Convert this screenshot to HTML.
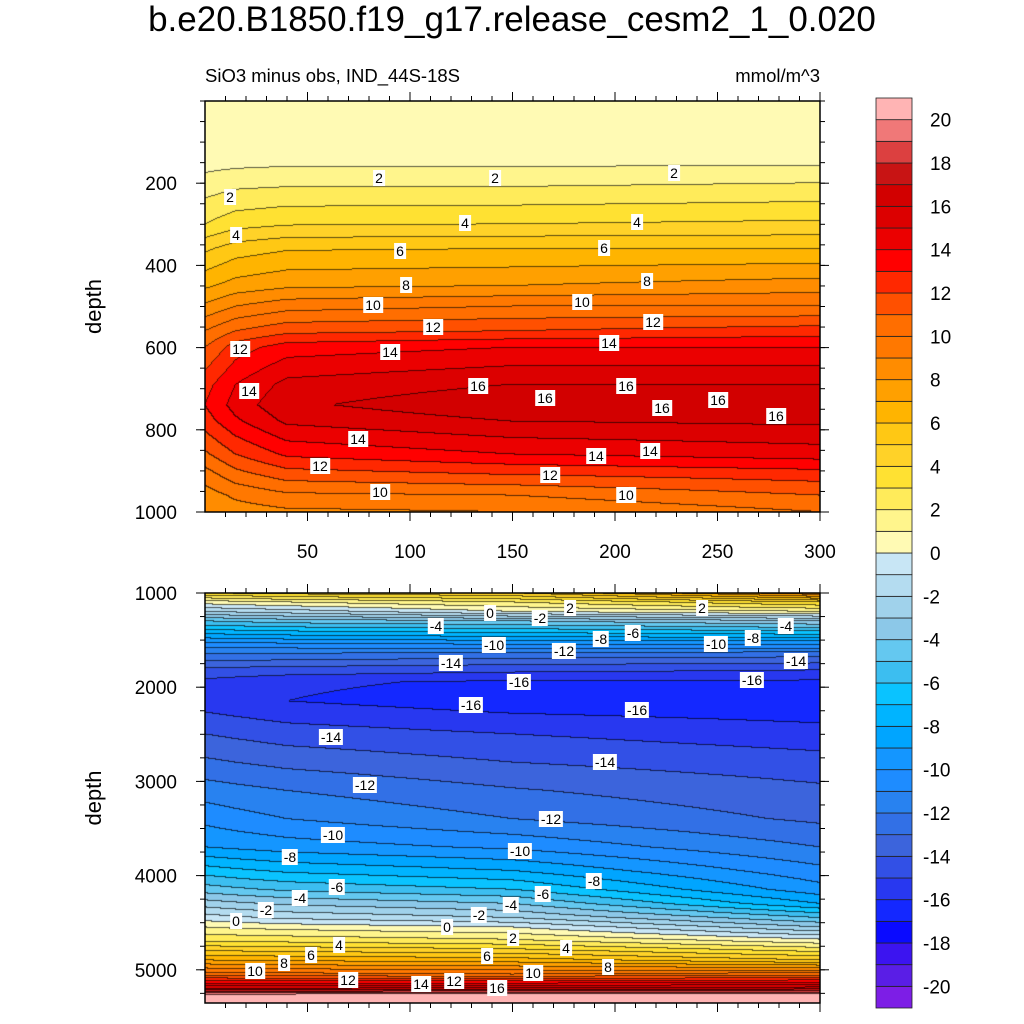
<!DOCTYPE html>
<html><head><meta charset="utf-8">
<style>
body{margin:0;background:#fff;width:1024px;height:1024px;position:relative;overflow:hidden;font-family:"Liberation Sans",sans-serif;}
.t{position:absolute;white-space:nowrap;color:#000;}
.lb{position:absolute;background:#fff;font-size:14px;padding:0 2px;line-height:16px;transform:translate(-50%,-50%);}
canvas{position:absolute;}
</style></head><body>
<div class="t" style="left:0;width:1024px;text-align:center;top:0px;font-size:35px;">b.e20.B1850.f19_g17.release_cesm2_1_0.020</div>
<div class="t" style="left:205px;top:65px;font-size:18.5px;">SiO3 minus obs, IND_44S-18S</div>
<div class="t" style="right:204px;top:65px;font-size:18.5px;">mmol/m^3</div>
<canvas id="c1" width="615" height="411" style="left:205px;top:101px"></canvas>
<canvas id="c2" width="615" height="410" style="left:205px;top:593px"></canvas>
<svg id="ax" width="1024" height="1024" style="position:absolute;left:0;top:0"></svg>
<div id="labels"></div>
<script>
// ---- data ----
const colors=["#7d1ee6","#5a1ee6","#3c14f0","#0a0aff","#1428ff","#2838f0","#3250e6","#3c64dc","#3270e6","#2882f0","#1e8cff","#1496ff","#00a5ff","#00b4ff","#0ac3ff","#3cbef0","#64c8f0","#8cc8e8","#a0d2eb","#b4dcf0","#c8e6f5",
"#fffab4","#fff58c","#ffeb5a","#ffe132","#ffd228","#ffc814","#ffb400","#ffa000","#ff8c00","#ff7800","#ff6e00","#ff5000","#ff2800","#ff0000","#eb0000","#dc0000","#d20000","#c81414","#dc4040","#f07878","#ffb4b4"];
const xCols=[0,15,40,150,300];
const topDepths=[0,150,200,300,360,450,500,560,600,690,740,780,860,910,960,1000];
const topX0=[0.3,0.6,1.4,3,4.8,6.8,8.2,10,11,12.6,13,12.5,10.8,9.5,8.5,8];
const topX15=[0.4,0.7,1.7,3.6,5.5,7.4,9,11,12.5,14,14.4,13.8,12,10.6,9.2,8.5];
const topX40=[0.5,0.8,1.8,3.9,5.9,7.8,9.6,11.7,13.5,15.3,15.8,15.2,13.2,11.5,9.8,8.8];
const topX150=[0.5,0.8,1.8,4,6,8,10,12,14,16,16.8,16,14,12,10,9];
const topX300=[0.5,0.8,2,4.2,6,8.5,10,12.5,14,16,16.8,16.2,14.5,12.5,11,10];
const botDepths=[1000,1100,1200,1300,1550,1650,1800,1950,2150,2500,2800,3100,3400,3700,3950,4150,4300,4450,4550,4700,4900,5050,5200,5270,5350];
const botX0=[4,0.5,-2,-5,-10.5,-12,-14,-15.3,-15.5,-14,-12.8,-11.5,-10.3,-9,-6.5,-4.5,-2.5,-0.5,1,3,7,10.5,16,20.5,21];
const botX15=[4.2,0.7,-1.8,-4.8,-10.4,-12,-14.1,-15.5,-15.7,-14.2,-13,-11.7,-10.6,-9.2,-6.8,-4.8,-2.8,-0.8,0.8,2.9,6.9,10.4,16,20.5,21];
const botX40=[4.5,1,-1.5,-4.5,-10.3,-12.1,-14.2,-15.8,-16,-14.5,-13.3,-12,-11,-9.5,-7.2,-5.2,-3.2,-1.2,0.6,2.8,6.8,10.3,16,20.5,21];
const botX150=[5,2,0,-4,-10,-12.3,-14.5,-16.2,-16.6,-15,-14,-12.9,-12,-10.2,-8,-6,-4,-2,0,2.3,6.5,10,16.2,20.5,21];
const botX300=[9,4,1,-3,-10,-12.5,-14.8,-16.2,-16.8,-15.6,-14.6,-13.8,-13.2,-12,-10.7,-9.6,-8,-5,-3,0.5,5,10.5,16.5,20.5,21];
const xTicks=[50,100,150,200,250,300];
const topYTicks=[200,400,600,800,1000];
const botYTicks=[1000,2000,3000,4000,5000];
const cbLabels=[20,18,16,14,12,10,8,6,4,2,0,-2,-4,-6,-8,-10,-12,-14,-16,-18,-20];

// ---- scales ----
const X0=205,X1=820;
const xS=x=>X0+(x-0)*(X1-X0)/300;
const yTop=d=>101+d*0.411;
const yBot=d=>593+(d-1000)*0.0942;
function interp(xs,ys,v){if(v<=xs[0])return ys[0];for(let i=1;i<xs.length;i++){if(v<=xs[i]){const t=(v-xs[i-1])/(xs[i]-xs[i-1]);return ys[i-1]+t*(ys[i]-ys[i-1]);}}return ys[ys.length-1];}
function idx(v){let k=Math.floor(v)+21;return Math.max(0,Math.min(41,k));}
function hex(h){return [parseInt(h.substr(1,2),16),parseInt(h.substr(3,2),16),parseInt(h.substr(5,2),16)];}
const rgb=colors.map(hex);
function draw(id,depths,cols,yToD){
 const c=document.getElementById(id),ctx=c.getContext('2d'),W=c.width,H=c.height;
 const img=ctx.createImageData(W,H);const K=new Int16Array(W*H);
 for(let j=0;j<H;j++){const d=yToD(j+0.5);const colv=cols.map(cc=>interp(depths,cc,d));
  for(let i=0;i<W;i++){const x=(i+0.5)*300/W;K[j*W+i]=idx(interp(xCols,colv,x));}}
 for(let j=0;j<H;j++)for(let i=0;i<W;i++){const p=j*W+i,k=K[p];let col=rgb[k];
  let edge=(i<W-1&&K[p+1]!==k)||(j<H-1&&K[p+W]!==k);
  const o=p*4;const f=edge?0.35:1;img.data[o]=col[0]*f;img.data[o+1]=col[1]*f;img.data[o+2]=col[2]*f;img.data[o+3]=255;}
 ctx.putImageData(img,0,0);
}
draw('c1',topDepths,[topX0,topX15,topX40,topX150,topX300],j=>j/0.411);
draw('c2',botDepths,[botX0,botX15,botX40,botX150,botX300],j=>1000+j/0.0942);

// ---- axes ----
const svg=document.getElementById('ax');const NS='http://www.w3.org/2000/svg';
function el(t,a,name){const e=document.createElementNS(NS,t);for(const k in a)e.setAttribute(k,a[k]);
 
 
 svg.appendChild(e);return e;}
function frame(top,bot,yTicks,yf,showX,nm){
 el('rect',{x:X0,y:top,width:X1-X0,height:bot-top,fill:'none',stroke:'#000','stroke-width':1.5},nm+'-frame');
 for(let v=10;v<=300;v+=10){const x=xS(v);const maj=v%50===0;
  el('line',{x1:x,x2:x,y1:bot,y2:bot+(maj?9:5),stroke:'#000'},nm+'-x-tick');
  el('line',{x1:x,x2:x,y1:top,y2:top-(maj?9:5),stroke:'#000'},nm+'-x-tick-top');}
 if(showX)xTicks.forEach(v=>{const t=el('text',{x:xS(v),y:bot+46,'font-size':19,'text-anchor':'middle','font-family':'Liberation Sans'},nm+'-x-tick-label');t.textContent=v;});
 yTicks.forEach(v=>{const y=yf(v);el('line',{x1:X0,x2:X0-9,y1:y,y2:y,stroke:'#000'},nm+'-y-tick');el('line',{x1:X1,x2:X1+9,y1:y,y2:y,stroke:'#000'},nm+'-y-tick-right');
  const t=el('text',{x:177,y:y+7,'font-size':19,'text-anchor':'end','font-family':'Liberation Sans'},nm+'-y-tick-label');t.textContent=v;});
 const st=(yTicks[1]-yTicks[0])/4;
 for(let v=yTicks[0]-4*st;v<=yTicks[yTicks.length-1]+4*st;v+=st){const y=yf(v);if(y<top||y>bot)continue;
  el('line',{x1:X0,x2:X0-5,y1:y,y2:y,stroke:'#000'},nm+'-y-minor');el('line',{x1:X1,x2:X1+5,y1:y,y2:y,stroke:'#000'},nm+'-y-minor-right');}
 const t=el('text',{x:0,y:0,'font-size':22,'text-anchor':'middle','font-family':'Liberation Sans',transform:`translate(101,${(top+bot)/2}) rotate(-90)`},nm+'-y-axis-title');t.textContent='depth';
}
frame(101,512,topYTicks,yTop,true,'top');
frame(593,1003,botYTicks,yBot,false,'bottom');
// colorbar
const cbT=98,cbB=1008,bh=(cbB-cbT)/42;
for(let k=0;k<42;k++){const y=cbB-(k+1)*bh;el('rect',{x:876,y:y,width:36,height:bh,fill:colors[k],stroke:'#222','stroke-width':0.8},'colorbar-box');}
cbLabels.forEach(v=>{const y=cbB-(v+21)*bh;const t=el('text',{x:v<0?923:930,y:y+7,'font-size':19,'font-family':'Liberation Sans'},'colorbar-label');t.textContent=v;});

// contour labels
const L=[[230,197,'2'],[379,178,'2'],[495,178,'2'],[674,173,'2'],[236,235,'4'],[465,223,'4'],[637,222,'4'],[400,251,'6'],[604,248,'6'],[406,285,'8'],[647,281,'8'],[373,305,'10'],[582,302,'10'],[433,327,'12'],[653,322,'12'],[240,349,'12'],[390,352,'14'],[609,343,'14'],[249,391,'14'],[478,386,'16'],[545,398,'16'],[626,386,'16'],[662,408,'16'],[718,400,'16'],[776,416,'16'],[358,439,'14'],[596,456,'14'],[650,451,'14'],[320,466,'12'],[550,475,'12'],[380,492,'10'],[626,495,'10'],
[490,613,'0'],[540,618,'-2'],[570,608,'2'],[702,608,'2'],[436,626,'-4'],[494,645,'-10'],[633,633,'-6'],[601,639,'-8'],[564,651,'-12'],[716,644,'-10'],[753,638,'-8'],[786,626,'-4'],[451,663,'-14'],[796,661,'-14'],[519,682,'-16'],[752,680,'-16'],[471,705,'-16'],[637,710,'-16'],[331,737,'-14'],[605,762,'-14'],[365,785,'-12'],[551,819,'-12'],[333,835,'-10'],[520,851,'-10'],[290,857,'-8'],[594,881,'-8'],[337,887,'-6'],[543,894,'-6'],[300,898,'-4'],[511,905,'-4'],[266,910,'-2'],[479,915,'-2'],[236,921,'0'],[447,927,'0'],[513,938,'2'],[566,948,'4'],[339,945,'4'],[311,955,'6'],[487,956,'6'],[608,967,'8'],[284,963,'8'],[255,971,'10'],[533,973,'10'],[348,980,'12'],[454,981,'12'],[421,984,'14'],[497,988,'16']];
const lc=document.getElementById('labels');
L.forEach(a=>{const d=document.createElement('div');d.className='lb';d.style.left=a[0]+'px';d.style.top=a[1]+'px';d.textContent=a[2];
 
 
 lc.appendChild(d);});
</script>
</body></html>
